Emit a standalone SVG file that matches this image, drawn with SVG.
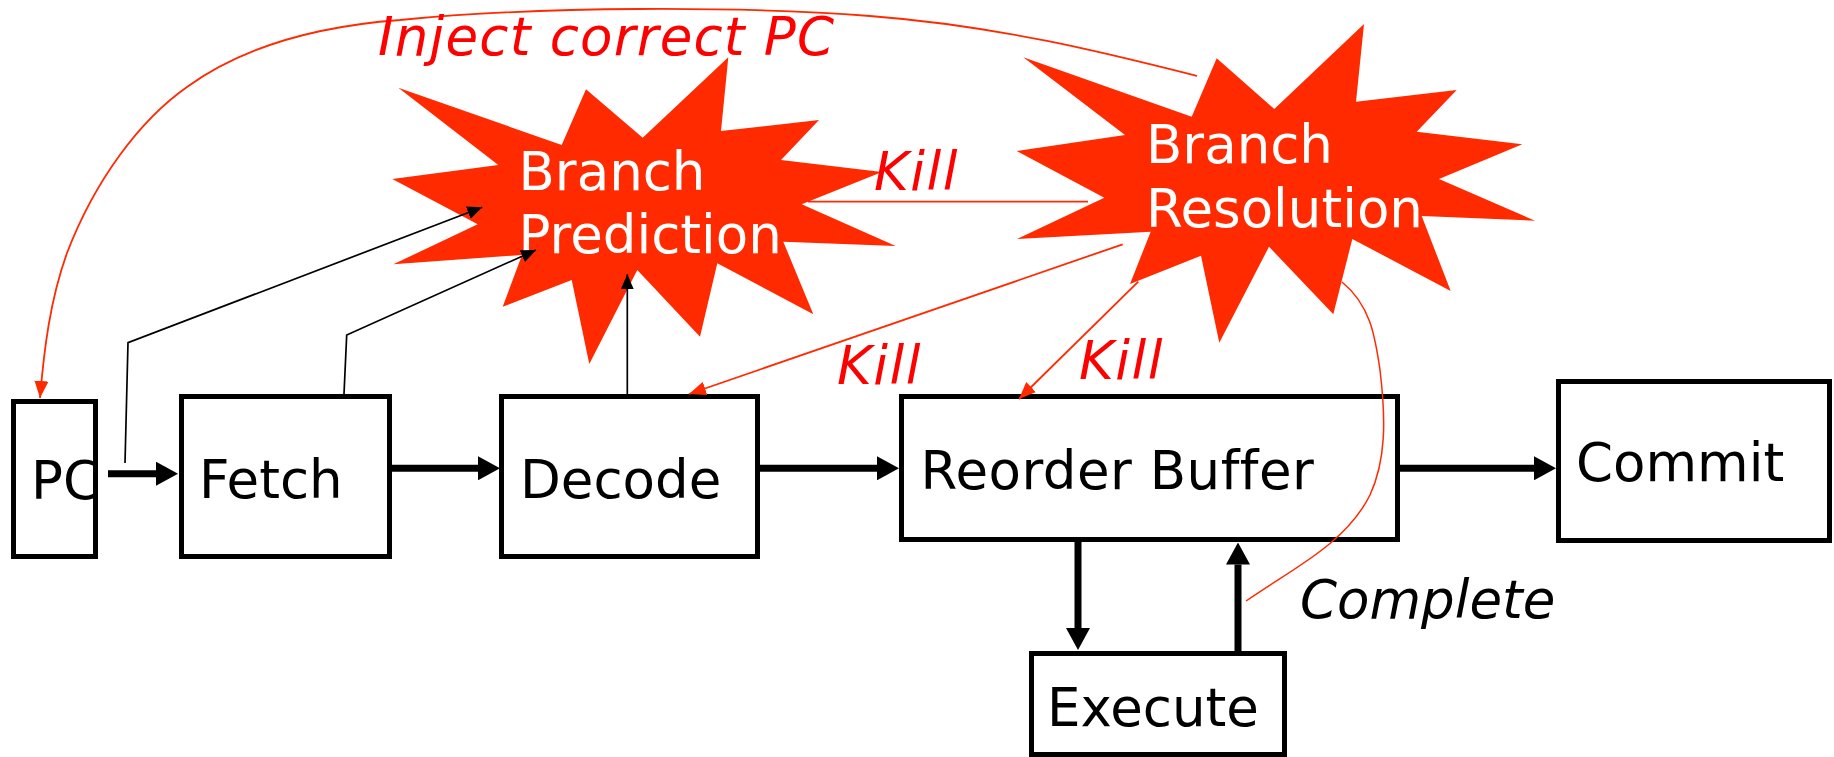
<svg xmlns="http://www.w3.org/2000/svg" width="1834" height="757" viewBox="0 0 1834 757">
<style>
.box{fill:#fff;stroke:#000;stroke-width:5}
.lbl{font-family:"DejaVu Sans","Liberation Sans",sans-serif;font-size:53px;fill:#000}
.wt{font-family:"DejaVu Sans","Liberation Sans",sans-serif;font-size:53px;fill:#fff}
.it{font-family:"DejaVu Sans","Liberation Sans",sans-serif;font-size:53px;font-style:italic}
.red{fill:#ff0000}
.star{fill:#ff2a00}
.thick{stroke:#000;stroke-width:7;fill:none}
.thin{stroke:#000;stroke-width:1.7;fill:none}
.rl{stroke:#ff2a00;stroke-width:1.8;fill:none}
</style>
<defs>
<marker id="ah" markerUnits="userSpaceOnUse" viewBox="0 0 22 24" refX="0" refY="12" markerWidth="22" markerHeight="24" orient="auto"><path d="M0,0 L22,12 L0,24 z" fill="#000"/></marker>
<marker id="ta" markerUnits="userSpaceOnUse" viewBox="0 0 15 13" refX="15" refY="6.5" markerWidth="15" markerHeight="13" orient="auto"><path d="M0,0 L15,6.5 L0,13 z" fill="#000"/></marker>
<marker id="ra" markerUnits="userSpaceOnUse" viewBox="0 0 17 14" refX="17" refY="7" markerWidth="17" markerHeight="14" orient="auto"><path d="M0,0 L17,7 L0,14 z" fill="#ff2a00"/></marker>
</defs>
<g id="bp-star">
<polygon class="star" points="398.3,87.7 561.7,145 586,89.3 642.7,137.7 728.3,57.3 721,131 819,120 781,160 882,172 801.7,204.3 895.7,246 783.3,241.7 813.3,314.3 717.3,263.3 700,336.7 637.3,270 589.3,364 571.7,280 502.7,306.7 522,255 393.3,264.3 477.7,224.3 392.3,179 498.3,165"/>
<text class="wt" x="518.5" y="190">Branch</text>
<text class="wt" x="518.5" y="252.7">Prediction</text>
</g>
<g id="br-star">
<polygon class="star" points="1023.3,57.3 1191.7,116.7 1216.7,58.3 1274.3,109 1364,24 1356,101.7 1456.7,90 1416.7,131.7 1522.3,144.3 1439,179 1535,220.7 1421.7,216 1450.7,291 1352.3,239 1333.3,314.3 1269,246.7 1219.3,342.7 1201,255.7 1130,284 1150.7,231.7 1017,239 1104.3,197.7 1016.7,151 1125,135"/>
<text class="wt" x="1146" y="163.3">Branch</text>
<text class="wt" x="1146" y="227.3">Resolution</text>
</g>
<g id="pc"><rect class="box" x="13.5" y="401.5" width="82" height="155"/><text class="lbl" x="31" y="499">PC</text></g>
<g id="fetch"><rect class="box" x="181.5" y="396.5" width="208" height="160"/><text class="lbl" x="199" y="498">Fetch</text></g>
<g id="decode"><rect class="box" x="501.5" y="396.5" width="256" height="160"/><text class="lbl" x="520" y="498">Decode</text></g>
<g id="rob"><rect class="box" x="901.5" y="396.5" width="496" height="143"/><text class="lbl" x="920.5" y="489" letter-spacing="0.5">Reorder Buffer</text></g>
<g id="commit"><rect class="box" x="1558.5" y="381.5" width="271" height="159"/><text class="lbl" x="1576" y="481">Commit</text></g>
<g id="execute"><rect class="box" x="1031.5" y="653.5" width="253" height="101"/><text class="lbl" x="1047" y="726">Execute</text></g>
<g id="connectors">
<line class="thick" x1="108" y1="473.7" x2="156" y2="473.7" marker-end="url(#ah)"/>
<line class="thick" x1="392" y1="468.3" x2="478" y2="468.3" marker-end="url(#ah)"/>
<line class="thick" x1="760" y1="468.3" x2="877" y2="468.3" marker-end="url(#ah)"/>
<line class="thick" x1="1400" y1="468.3" x2="1534" y2="468.3" marker-end="url(#ah)"/>
<line class="thick" x1="1078" y1="542" x2="1078" y2="628" marker-end="url(#ah)"/>
<line class="thick" x1="1238" y1="651" x2="1238" y2="564.5" marker-end="url(#ah)"/>
<polyline class="thin" points="125,463 128,342.7 482.3,207.3" marker-end="url(#ta)"/>
<polyline class="thin" points="344,394 346.7,335 536,250" marker-end="url(#ta)"/>
<line class="thin" x1="627.3" y1="394" x2="627.3" y2="274.3" marker-end="url(#ta)"/>
<path class="rl" d="M1197,76 C1110,54 1000,26 870,16 C740,6 540,6 400,20 C320,26 245,45 187,87 C140,120 95,180 67,253 C50,300 44,350 40,398" marker-end="url(#ra)"/>
<line class="rl" x1="808" y1="201.7" x2="1088" y2="201.7"/>
<line class="rl" x1="1122.7" y1="244.3" x2="689" y2="394" marker-end="url(#ra)"/>
<line class="rl" x1="1138.3" y1="281.7" x2="1019" y2="399" marker-end="url(#ra)"/>
<path class="rl" style="stroke-width:1.5" d="M1342,282 C1370,305 1375,335 1380,370 C1386,420 1386,460 1370,495 C1345,545 1290,570 1246,601"/>
</g>
<g id="labels">
<text class="it red" x="378" y="55" letter-spacing="1.2">Inject correct PC</text>
<text class="it red" x="874" y="190" letter-spacing="1.5">Kill</text>
<text class="it red" x="837" y="384" letter-spacing="1.5">Kill</text>
<text class="it red" x="1079" y="379" letter-spacing="1.5">Kill</text>
<text class="it" x="1300" y="618">Complete</text>
</g>
</svg>
